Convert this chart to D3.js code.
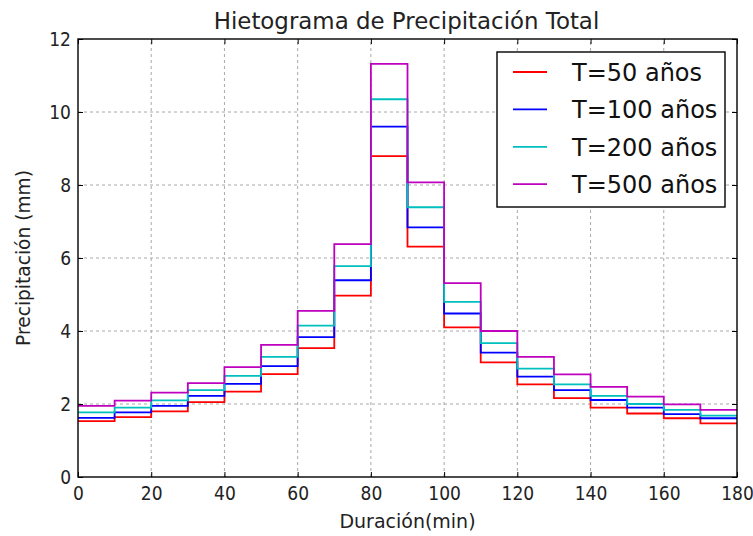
<!DOCTYPE html>
<html>
<head>
<meta charset="utf-8">
<script src="https://cdn.jsdelivr.net/npm/d3@7"></script>
<style>
  body { margin: 0; background: #fff; }
  svg { display: block; font-family: "DejaVu Sans", sans-serif; }
</style>
</head>
<body>
<svg id="chart" width="753" height="536"></svg>
<script>
// Bin starts (min) for each 10-minute interval
const binStarts = [0, 10, 20, 30, 40, 50, 60, 70, 80, 90, 100, 110, 120, 130, 140, 150, 160, 170];
const binWidth = 10;

// Precipitation per interval (mm) for each return period
const p50  = [1.53, 1.64, 1.80, 2.05, 2.34, 2.82, 3.53, 4.97, 8.79, 6.31, 4.10, 3.14, 2.54, 2.16, 1.90, 1.74, 1.61, 1.47];
const p100 = [1.62, 1.77, 1.95, 2.22, 2.55, 3.04, 3.83, 5.39, 9.60, 6.84, 4.48, 3.41, 2.75, 2.38, 2.11, 1.90, 1.72, 1.61];
const p200 = [1.77, 1.90, 2.10, 2.38, 2.77, 3.29, 4.15, 5.78, 10.35, 7.39, 4.80, 3.67, 2.97, 2.54, 2.22, 2.00, 1.84, 1.68];
const p500 = [1.95, 2.09, 2.31, 2.57, 3.01, 3.62, 4.55, 6.38, 11.32, 8.07, 5.31, 4.00, 3.29, 2.81, 2.47, 2.20, 1.99, 1.84];

const seriesNames = ["T=50 años", "T=100 años", "T=200 años", "T=500 años"];
const seriesColors = ["#ff0000", "#0000ff", "#00bfbf", "#bf00bf"];
const seriesValues = [p50, p100, p200, p500];

const xTicks = [0, 20, 40, 60, 80, 100, 120, 140, 160, 180];
const yTicks = [0, 2, 4, 6, 8, 10, 12];

const margin = { left: 78, right: 16, top: 39, bottom: 59 };
const W = 753, H = 536;
const svg = d3.select("#chart");
const condensed = "'DejaVu Sans Condensed', 'DejaVu Sans', sans-serif";

const x = d3.scaleLinear().domain([0, 180]).range([margin.left, W - margin.right]);
const y = d3.scaleLinear().domain([0, 12]).range([H - margin.bottom, margin.top]);

// Grid
const grid = svg.append("g");
grid.selectAll(".gx").data(xTicks.slice(1, -1)).join("line")
  .attr("x1", d => x(d)).attr("x2", d => x(d))
  .attr("y1", y(0)).attr("y2", y(12))
  .attr("stroke", "#a8a8a8").attr("stroke-width", 1).attr("stroke-dasharray", "3,3");
grid.selectAll(".gy").data(yTicks.slice(1, -1)).join("line")
  .attr("y1", d => y(d)).attr("y2", d => y(d))
  .attr("x1", x(0)).attr("x2", x(180))
  .attr("stroke", "#a8a8a8").attr("stroke-width", 1).attr("stroke-dasharray", "3,3");

// Step lines
const line = d3.line()
  .x(d => x(d[0]))
  .y(d => y(d[1]))
  .curve(d3.curveStepAfter);

seriesValues.forEach((vals, i) => {
  const pts = binStarts.map((s, j) => [s, vals[j]]);
  pts.push([binStarts[binStarts.length - 1] + binWidth, vals[vals.length - 1]]);
  svg.append("path")
    .datum(pts)
    .attr("d", line)
    .attr("fill", "none")
    .attr("stroke", seriesColors[i])
    .attr("stroke-width", 1.8);
});

// Axes with inward ticks on all sides
const tickLen = 5;
const axB = svg.append("g").attr("transform", `translate(0,${y(0)})`)
  .call(d3.axisBottom(x).tickValues(xTicks).tickSize(-tickLen).tickPadding(10).tickFormat(d3.format("d")));
const axT = svg.append("g").attr("transform", `translate(0,${y(12)})`)
  .call(d3.axisTop(x).tickValues(xTicks).tickSize(-tickLen).tickFormat(""));
const axL = svg.append("g").attr("transform", `translate(${x(0)},0)`)
  .call(d3.axisLeft(y).tickValues(yTicks).tickSize(-tickLen).tickPadding(7).tickFormat(d3.format("d")));
const axR = svg.append("g").attr("transform", `translate(${x(180)},0)`)
  .call(d3.axisRight(y).tickValues(yTicks).tickSize(-tickLen).tickFormat(""));

[axB, axT, axL, axR].forEach(a => {
  a.select(".domain").remove();
  a.selectAll(".tick line").attr("stroke", "#000").attr("stroke-width", 1);
  a.selectAll("text").attr("font-size", 19).attr("fill", "#222")
    .attr("font-family", condensed);
});

// Frame
svg.append("rect")
  .attr("x", x(0)).attr("y", y(12))
  .attr("width", x(180) - x(0)).attr("height", y(0) - y(12))
  .attr("fill", "none").attr("stroke", "#000").attr("stroke-width", 1.4);

// Titles
svg.append("text")
  .attr("x", (x(0) + x(180)) / 2 - 1).attr("y", 29)
  .attr("text-anchor", "middle").attr("font-size", 22.9).attr("fill", "#222")
  .text("Hietograma de Precipitación Total");
svg.append("text")
  .attr("x", (x(0) + x(180)) / 2).attr("y", 528)
  .attr("text-anchor", "middle").attr("font-size", 19).attr("fill", "#222")
  .text("Duración(min)");
svg.append("text")
  .attr("transform", `translate(30,${(y(0) + y(12)) / 2}) rotate(-90)`)
  .attr("text-anchor", "middle").attr("font-size", 18.6).attr("fill", "#222")
  .text("Precipitación (mm)");

// Legend
const lg = svg.append("g").attr("transform", "translate(497,52)");
lg.append("rect").attr("width", 228).attr("height", 155)
  .attr("fill", "#fff").attr("stroke", "#000").attr("stroke-width", 1.4);
seriesNames.forEach((name, i) => {
  const cy = 20 + i * 37.4;
  lg.append("line").attr("x1", 16).attr("x2", 50).attr("y1", cy).attr("y2", cy)
    .attr("stroke", seriesColors[i]).attr("stroke-width", 1.8);
  lg.append("text").attr("x", 75).attr("y", cy + 9)
    .attr("font-size", 24).attr("fill", "#111").text(name);
});
</script>
</body>
</html>
